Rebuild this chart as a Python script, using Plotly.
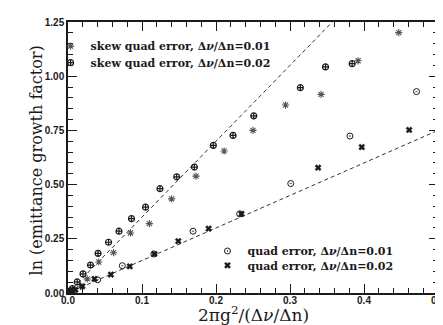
import plotly.graph_objects as go

# ---- data ----
skew01_x = [0.001, 0.003, 0.006, 0.0171, 0.026, 0.0416, 0.0615, 0.0845, 0.110, 0.140, 0.173,
            0.211, 0.250, 0.294, 0.342, 0.392, 0.447]
skew01_y = [0.003, 0.008, 0.016, 0.031, 0.065, 0.143, 0.186, 0.277, 0.320, 0.434, 0.539,
            0.655, 0.750, 0.867, 0.916, 1.071, 1.201]

skew02_x = [0.001, 0.003, 0.006, 0.0124, 0.0203, 0.0304, 0.0406, 0.0548, 0.0689, 0.0858, 0.1048,
            0.1243, 0.1469, 0.1708, 0.1964, 0.223, 0.251, 0.314, 0.348, 0.384]
skew02_y = [0.004, 0.010, 0.020, 0.051, 0.088, 0.129, 0.183, 0.234, 0.285, 0.343, 0.396,
            0.481, 0.536, 0.581, 0.681, 0.727, 0.817, 0.947, 1.043, 1.058]

quad01_x = [0.001, 0.004, 0.008, 0.040, 0.0734, 0.116, 0.169, 0.232, 0.301, 0.381, 0.471]
quad01_y = [0.002, 0.006, 0.012, 0.061, 0.126, 0.180, 0.285, 0.365, 0.505, 0.724, 0.929]

quad02_x = [0.002, 0.005, 0.010, 0.0194, 0.0357, 0.058, 0.0835, 0.1167, 0.149, 0.190, 0.2345,
            0.338, 0.397, 0.461]
quad02_y = [0.003, 0.008, 0.015, 0.031, 0.065, 0.085, 0.123, 0.180, 0.239, 0.297, 0.365,
            0.578, 0.673, 0.752]

fit_slopes = [3.5, 1.5]
x_max, y_max = 0.5, 1.25

x_ticks = [0.0, 0.1, 0.2, 0.3, 0.4, 0.5]
x_ticklabels = ["0.0", "0.1", "0.2", "0.3", "0.4", "0.5"]
y_ticks = [0.0, 0.25, 0.5, 0.75, 1.0, 1.25]
y_ticklabels = ["0.00", "0.25", "0.50", "0.75", "1.00", "1.25"]

INK = "#1a1a1a"
SERIF = "DejaVu Serif"

fig = go.Figure()

# dashed fit lines
for s in fit_slopes:
    xe = min(x_max, y_max / s)
    fig.add_trace(go.Scatter(x=[0, xe], y=[0, s * xe], mode="lines",
                             line=dict(color="#333", width=1, dash="4px,3px"),
                             showlegend=False, hoverinfo="skip"))

lab = "error, Δ<i>ν</i>/Δn="

fig.add_trace(go.Scatter(x=skew01_x, y=skew01_y, mode="markers",
                         name="skew quad " + lab + "0.01", legend="legend",
                         marker=dict(symbol="asterisk-open", size=6, color="#555",
                                     line=dict(color="#555", width=1.1))))
fig.add_trace(go.Scatter(x=skew02_x, y=skew02_y, mode="markers",
                         name="skew quad " + lab + "0.02", legend="legend2",
                         marker=dict(symbol="circle-cross-open", size=6, color=INK,
                                     line=dict(color=INK, width=1.2))))
fig.add_trace(go.Scatter(x=quad01_x, y=quad01_y, mode="markers",
                         name="quad " + lab + "0.01", legend="legend3",
                         marker=dict(symbol="circle-open-dot", size=6, color=INK,
                                     line=dict(color=INK, width=1.0))))
fig.add_trace(go.Scatter(x=quad02_x, y=quad02_y, mode="markers",
                         name="quad " + lab + "0.02", legend="legend4",
                         marker=dict(symbol="x", size=5.5, color=INK,
                                     line=dict(color=INK, width=0.4))))

axis_common = dict(showgrid=False, zeroline=False, showline=True, linecolor=INK, linewidth=1.5,
                   mirror="allticks", ticks="inside", ticklen=9, tickwidth=1.2, tickcolor=INK,
                   tickfont=dict(family="Liberation Sans", size=10, color=INK, weight="bold"))

leg_font = dict(family=SERIF, size=11, color=INK, weight="bold")


def leg(x, y):
    return dict(x=x, y=y, xanchor="left", yanchor="middle", bgcolor="rgba(0,0,0,0)",
                font=leg_font, tracegroupgap=0)


fig.update_layout(
    width=443, height=325,
    margin=dict(l=60, r=6, t=14, b=40),
    plot_bgcolor="white", paper_bgcolor="white",
    showlegend=True,
    xaxis=dict(range=[0, x_max], tickvals=x_ticks, ticktext=x_ticklabels,
               ticklabelstandoff=-3,
               minor=dict(dtick=0.02, ticks="inside", ticklen=5, tickcolor=INK, tickwidth=1),
               **axis_common),
    yaxis=dict(range=[0, y_max], tickvals=y_ticks, ticktext=y_ticklabels,
               minor=dict(dtick=0.05, ticks="inside", ticklen=5, tickcolor=INK, tickwidth=1),
               **axis_common),
    legend=leg(-0.047, 0.911),
    legend2=leg(-0.047, 0.850),
    legend3=leg(0.377, 0.155),
    legend4=leg(0.377, 0.102),
    annotations=[
        dict(text="2πg<sup>2</sup>/(Δ<i>ν</i>/Δn)", xref="paper", yref="paper",
             x=0.5, y=-0.079, xanchor="center", yanchor="middle", showarrow=False,
             font=dict(family=SERIF, size=17, color=INK)),
        dict(text="ln (emittance growth factor)", xref="paper", yref="paper",
             x=-0.086, y=0.49, xanchor="center", yanchor="middle", textangle=-90,
             showarrow=False, font=dict(family=SERIF, size=16, color=INK)),
    ],
)

fig.write_html("out.html")
